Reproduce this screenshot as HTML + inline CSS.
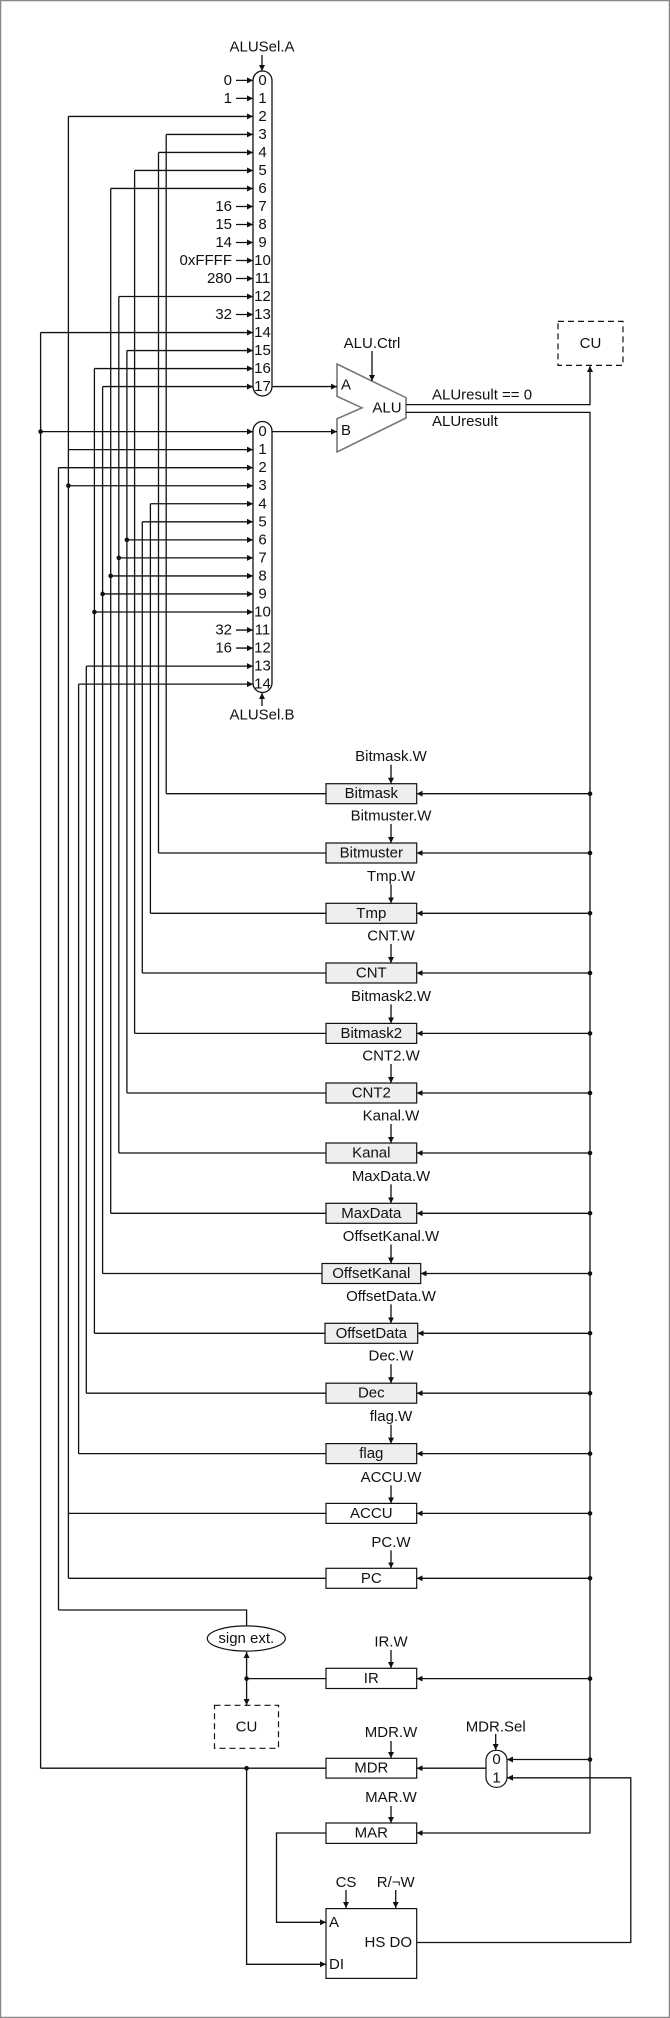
<!DOCTYPE html>
<html><head><meta charset="utf-8">
<style>
html,body{margin:0;padding:0;background:#fff}
svg{display:block}
text{font-family:"Liberation Sans",Arial,sans-serif;font-size:15px;fill:#111}
</style></head>
<body>
<svg id="d" width="670" height="2018" viewBox="0 0 670 2018" xmlns="http://www.w3.org/2000/svg">
<defs>
<marker id="ar" markerUnits="userSpaceOnUse" markerWidth="7" markerHeight="7" refX="6" refY="3" orient="auto">
<path d="M0,0 L6,3 L0,6 z" fill="#111"/>
</marker>
</defs>
<rect x="0.5" y="0.5" width="669" height="2017" fill="#fff" stroke="#888" stroke-width="1.5"/>
</svg>
<script>
// ---- data ----
const constA = [[0,'0'],[1,'1'],[7,'16'],[8,'15'],[9,'14'],[10,'0xFFFF'],[11,'280'],[13,'32']];
const constB = [[11,'32'],[12,'16']];
const regNames = ['Bitmask','Bitmuster','Tmp','CNT','Bitmask2','CNT2','Kanal','MaxData','OffsetKanal','OffsetData','Dec','flag','ACCU','PC'];
const regY = [793.7,853,913.3,973,1033.4,1093,1153,1213.3,1273.5,1333.3,1393.2,1453.6,1513.4,1578.3];
const regX = [166.2,158.5,150.4,142.3,134.6,126.9,118.8,110.7,102.6,94.4,86.3,78.6,68.4,68.4];
const regGray = [1,1,1,1,1,1,1,1,1,1,1,1,0,0];
const connA = [[2,68.4,0],[3,166.2,0],[4,158.5,0],[5,134.6,0],[6,110.7,0],[12,118.8,0],[14,40.6,0],[15,126.9,0],[16,94.4,0],[17,102.6,0]];
const connB = [[0,40.6,1],[1,68.4,0],[2,58.5,0],[3,68.4,1],[4,150.4,0],[5,142.3,0],[6,126.9,1],[7,118.8,1],[8,110.7,1],[9,102.6,1],[10,94.4,1],[13,86.3,0],[14,78.6,0]];

// ---- helpers ----
const S='http://www.w3.org/2000/svg', svg=document.getElementById('d');
function el(t,a,txt){const e=document.createElementNS(S,t);for(const k in a)e.setAttribute(k,a[k]);if(txt!==undefined)e.textContent=txt;svg.appendChild(e);return e;}
function ln(pts,arrow,name){const e=el('polyline',{points:pts.map(p=>p.join(',')).join(' '),fill:'none',stroke:'#111','stroke-width':1.3});if(arrow)e.setAttribute('marker-end','url(#ar)');

return e;}
function dot(x,y){const e=el('circle',{cx:x,cy:y,r:2.3,fill:'#111'});

}
function tx(x,y,s,anchor,name,sz){const e=el('text',{x:x,y:y,'text-anchor':anchor||'middle','dominant-baseline':'central'},s);if(sz)e.style.fontSize=sz+'px';

return e;}
const ya=i=>80.4+18.01*i, yb=i=>431.6+18.04*i;
const MX0=253, MX1=272, MXC=262.5, BUS=590, RL=326, RR=416.7;

// ---- verticals ----
const vert={};
function addV(x,y){if(!vert[x])vert[x]=[y,y];vert[x][0]=Math.min(vert[x][0],y);vert[x][1]=Math.max(vert[x][1],y);}
connA.forEach(c=>addV(c[1],ya(c[0])));
connB.forEach(c=>addV(c[1],yb(c[0])));
regX.forEach((x,i)=>addV(x,regY[i]));
addV(58.5,1610); addV(40.6,1768.2);
for(const x in vert){const v=ln([[+x,vert[x][0]],[+x,vert[x][1]]],false);
}

// ---- mux A/B ----
const ma=el('rect',{x:MX0,y:71,width:MX1-MX0,height:325,rx:9.5,fill:'#fff',stroke:'#111','stroke-width':1.3});


const mb=el('rect',{x:MX0,y:421.5,width:MX1-MX0,height:271,rx:9.5,fill:'#fff',stroke:'#111','stroke-width':1.3});


for(let i=0;i<18;i++)tx(MXC,ya(i),String(i),'middle','mux-a-input-'+i);
for(let i=0;i<15;i++)tx(MXC,yb(i),String(i),'middle','mux-b-input-'+i);
tx(262,47,'ALUSel.A','middle','alusel-a-label'); ln([[262,55],[262,71]],true,'alusel-a-arrow');
tx(262,715,'ALUSel.B','middle','alusel-b-label'); ln([[262,706],[262,693]],true,'alusel-b-arrow');
constA.forEach(c=>{tx(232,ya(c[0]),c[1],'end','const-a');ln([[236,ya(c[0])],[MX0,ya(c[0])]],true,'const-arrow');});
constB.forEach(c=>{tx(232,yb(c[0]),c[1],'end','const-b');ln([[236,yb(c[0])],[MX0,yb(c[0])]],true,'const-arrow');});
connA.forEach(c=>{ln([[c[1],ya(c[0])],[MX0,ya(c[0])]],true,'mux-a-wire');if(c[2])dot(c[1],ya(c[0]));});
connB.forEach(c=>{ln([[c[1],yb(c[0])],[MX0,yb(c[0])]],true,'mux-b-wire');if(c[2])dot(c[1],yb(c[0]));});

// ---- ALU ----
const alu=el('polygon',{points:'337,364 406,397.7 406,418 337,452 337,418.8 362,407.8 337,396.3',fill:'#fff',stroke:'#777','stroke-width':1.6});


tx(346,385,'A','middle','alu-a'); tx(346,430.7,'B','middle','alu-b'); tx(387,408,'ALU','middle','alu-label');
tx(372,343.5,'ALU.Ctrl','middle','alu-ctrl-label'); ln([[372,351],[372,381]],true,'alu-ctrl-arrow');
ln([[MX1,ya(17)],[337,ya(17)]],true,'alu-a-wire'); ln([[MX1,yb(0)],[337,yb(0)]],true,'alu-b-wire');
const cu1=el('rect',{x:558,y:321.4,width:65,height:44,fill:'none',stroke:'#111','stroke-width':1.2,'stroke-dasharray':'6,4'});


tx(590.5,343.5,'CU','middle','cu-label');
ln([[406,404.6],[BUS,404.6],[BUS,366]],true,'zero-flag-wire');
ln([[406,412.4],[BUS,412.4],[BUS,1833],[RR,1833]],true,'alu-result-bus');
tx(432,395,'ALUresult == 0','start','zero-flag-label'); tx(432,421.5,'ALUresult','start','alu-result-label');

// ---- registers ----
regNames.forEach((n,i)=>{
  const y=regY[i], wide=n==='OffsetKanal'?4:(n==='OffsetData'?1:0);
  ln([[regX[i],y],[RL,y]],false,'reg-out-'+n);
  ln([[BUS,y],[RR+wide,y]],true,'reg-in-'+n); dot(BUS,y);
  const r=el('rect',{x:RL-wide,y:y-10,width:RR-RL+2*wide,height:20,fill:regGray[i]?'#eee':'#fff',stroke:'#111','stroke-width':1.2});
  
  
  tx(371.3,y,n,'middle','register-name');
  const ly = i<12 ? y-37 : (n==='ACCU'? y-36 : y-36);
  tx(391,ly,n+'.W','middle','write-enable-label'); ln([[391,ly+8],[391,y-10]],true,'write-arrow');
});
tx(391,1642,'IR.W','middle','ir-w-label'); ln([[391,1650],[391,1668]],true,'write-arrow');
tx(391,1732.7,'MDR.W','middle','mdr-w-label'); ln([[391,1741],[391,1758]],true,'write-arrow');
tx(391,1797.6,'MAR.W','middle','mar-w-label'); ln([[391,1806],[391,1823]],true,'write-arrow');

// IR
ln([[BUS,1678.6],[RR,1678.6]],true,'ir-in'); dot(BUS,1678.6);
const ir=el('rect',{x:RL,y:1668.3,width:RR-RL,height:20.2,fill:'#fff',stroke:'#111','stroke-width':1.2});
 
tx(371.3,1678.6,'IR','middle','register-name');
ln([[RL,1678.6],[246.6,1678.6]],false,'ir-out'); dot(246.6,1678.6);
ln([[246.6,1678.6],[246.6,1652]],true,'ir-to-signext'); ln([[246.6,1678.6],[246.6,1705]],true,'ir-to-cu');
ln([[58.5,1610],[246.6,1610],[246.6,1626]],false,'signext-out');
const se=el('ellipse',{cx:246.3,cy:1638.5,rx:39,ry:12.6,fill:'#fff',stroke:'#111','stroke-width':1.2});
 
tx(246.3,1638.5,'sign ext.','middle','sign-extend-label');
const cu2=el('rect',{x:214.5,y:1705.3,width:64,height:43,fill:'none',stroke:'#111','stroke-width':1.2,'stroke-dasharray':'6,4'});
 
tx(246.5,1727,'CU','middle','cu-label');

// MDR
const mdr=el('rect',{x:RL,y:1758.3,width:RR-RL,height:19.8,fill:'#fff',stroke:'#111','stroke-width':1.2});
 
tx(371.3,1768.2,'MDR','middle','register-name');
ln([[RL,1768.2],[40.6,1768.2]],false,'mdr-out'); dot(246.6,1768.2);
ln([[246.6,1768.2],[246.6,1964.3],[RL,1964.3]],true,'mdr-to-di');
ln([[486,1768.2],[RR,1768.2]],true,'mdrmux-out');
const mm=el('rect',{x:486,y:1750.3,width:21,height:37,rx:10,fill:'#fff',stroke:'#111','stroke-width':1.2});
 
tx(496.5,1759.5,'0','middle','mdr-mux-0'); tx(496.5,1778,'1','middle','mdr-mux-1');
tx(495.7,1727,'MDR.Sel','middle','mdr-sel-label'); ln([[495.7,1734],[495.7,1750]],true,'mdr-sel-arrow');
ln([[BUS,1759.5],[507,1759.5]],true,'mdrmux-in0'); dot(BUS,1759.5);
ln([[RR,1942.5],[630.8,1942.5],[630.8,1777.8],[507,1777.8]],true,'do-to-mdrmux');

// MAR
const mar=el('rect',{x:RL,y:1823,width:RR-RL,height:20.4,fill:'#fff',stroke:'#111','stroke-width':1.2});
 
tx(371.3,1833,'MAR','middle','register-name');
ln([[RL,1833],[276.5,1833],[276.5,1922.3],[RL,1922.3]],true,'mar-to-a');

// HS memory
const hs=el('rect',{x:RL,y:1908.6,width:RR-RL,height:69.8,fill:'#fff',stroke:'#111','stroke-width':1.2});
 
tx(329,1922.3,'A','start','hs-a'); tx(329,1964.3,'DI','start','hs-di'); tx(412,1942.5,'HS DO','end','hs-do');
tx(346,1882.3,'CS','middle','cs-label'); ln([[346,1890],[346,1908]],true,'cs-arrow');
tx(395.7,1882.3,'R/¬W','middle','rw-label'); ln([[395.7,1890],[395.7,1908]],true,'rw-arrow');
</script>
</body></html>
